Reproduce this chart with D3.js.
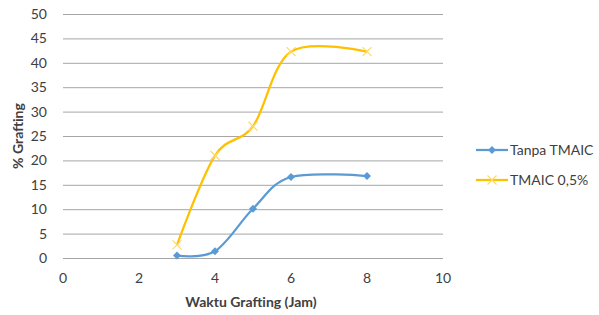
<!DOCTYPE html>
<html><head><meta charset="utf-8">
<script src="https://cdn.jsdelivr.net/npm/d3@7/dist/d3.min.js"></script>
<style>body{margin:0;background:#fff;}svg{display:block;font-family:Lato,"Open Sans",sans-serif;}</style>
</head><body><svg id="c" width="599" height="315"></svg>
<script>
const xValues = [3, 4, 5, 6, 8];
const tanpaTMAIC = [0.5, 1.4, 10.1, 16.6, 16.8];
const tmaic05 = [2.7, 21.0, 27.0, 42.3, 42.3];
const seriesNames = ["Tanpa TMAIC", "TMAIC 0,5%"];
const xTicks = [0, 2, 4, 6, 8, 10];
const yTicks = [0, 5, 10, 15, 20, 25, 30, 35, 40, 45, 50];
const xTitle = "Waktu Grafting (Jam)";
const yTitle = "% Grafting";

const svg = d3.select("#c");
const x = d3.scaleLinear().domain([0, 10]).range([63, 443]);
const y = d3.scaleLinear().domain([0, 50]).range([258, 14]);

// gridlines
svg.append("g").selectAll("line").data(yTicks).join("line")
  .attr("x1", x(0)).attr("x2", x(10))
  .attr("y1", d => y(d) + 0.5).attr("y2", d => y(d) + 0.5)
  .attr("stroke", "#a6a6a6").attr("stroke-width", 1);

// y tick labels
svg.append("g").selectAll("text").data(yTicks).join("text")
  .attr("x", 47).attr("y", d => y(d)).attr("dy", "0.35em")
  .attr("text-anchor", "end").attr("font-size", 14).attr("fill", "#404040")
  .text(d => d);

// x tick labels
svg.append("g").selectAll("text").data(xTicks).join("text")
  .attr("x", d => x(d)).attr("y", 278).attr("dy", "0.35em")
  .attr("text-anchor", "middle").attr("font-size", 14).attr("fill", "#404040")
  .text(d => d);

// axis titles
svg.append("text").attr("x", x(5) - 2).attr("y", 302).attr("dy", "0.35em")
  .attr("text-anchor", "middle").attr("font-size", 14).attr("font-weight", "bold").attr("fill", "#404040")
  .text(xTitle);
svg.append("text").attr("transform", "translate(18,136) rotate(-90)").attr("dy", "0.35em")
  .attr("text-anchor", "middle").attr("font-size", 14).attr("font-weight", "bold").attr("fill", "#404040")
  .text(yTitle);

const line = d3.line().x(d => x(d[0])).y(d => y(d[1])).curve(d3.curveCardinal.tension(0));
const blue = "#5b9bd5", gold = "#ffc000";

const d1 = xValues.map((v, i) => [v, tanpaTMAIC[i]]);
const d2 = xValues.map((v, i) => [v, tmaic05[i]]);

function diamond(g, cx, cy, s, col) {
  g.append("path").attr("d", `M${cx},${cy - s}L${cx + s},${cy}L${cx},${cy + s}L${cx - s},${cy}Z`).attr("fill", col);
}
function cross(g, cx, cy, s, col) {
  g.append("path").attr("d", `M${cx - s},${cy - s}L${cx + s},${cy + s}M${cx - s},${cy + s}L${cx + s},${cy - s}`)
    .attr("stroke", col).attr("stroke-width", 1.2).attr("fill", "none");
}

svg.append("path").datum(d2).attr("d", line).attr("fill", "none").attr("stroke", gold).attr("stroke-width", 2.25);
svg.append("path").datum(d1).attr("d", line).attr("fill", "none").attr("stroke", blue).attr("stroke-width", 2.25);

const m = svg.append("g");
d2.forEach(d => cross(m, x(d[0]), y(d[1]), 4.5, "#ffd966"));
d1.forEach(d => diamond(m, x(d[0]), y(d[1]), 4, blue));

// legend
const lg = svg.append("g");
[[blue, 150, "d"], [gold, 180, "x"]].forEach((c, i) => {
  lg.append("line").attr("x1", 476).attr("x2", 508).attr("y1", c[1]).attr("y2", c[1]).attr("stroke", c[0]).attr("stroke-width", 2.25);
  if (c[2] === "d") diamond(lg, 492, c[1], 4, blue); else cross(lg, 492, c[1], 4.5, "#ffd966");
  lg.append("text").attr("x", 510).attr("y", c[1]).attr("dy", "0.35em").attr("font-size", 14).attr("fill", "#404040").text(seriesNames[i]);
});
</script></body></html>
